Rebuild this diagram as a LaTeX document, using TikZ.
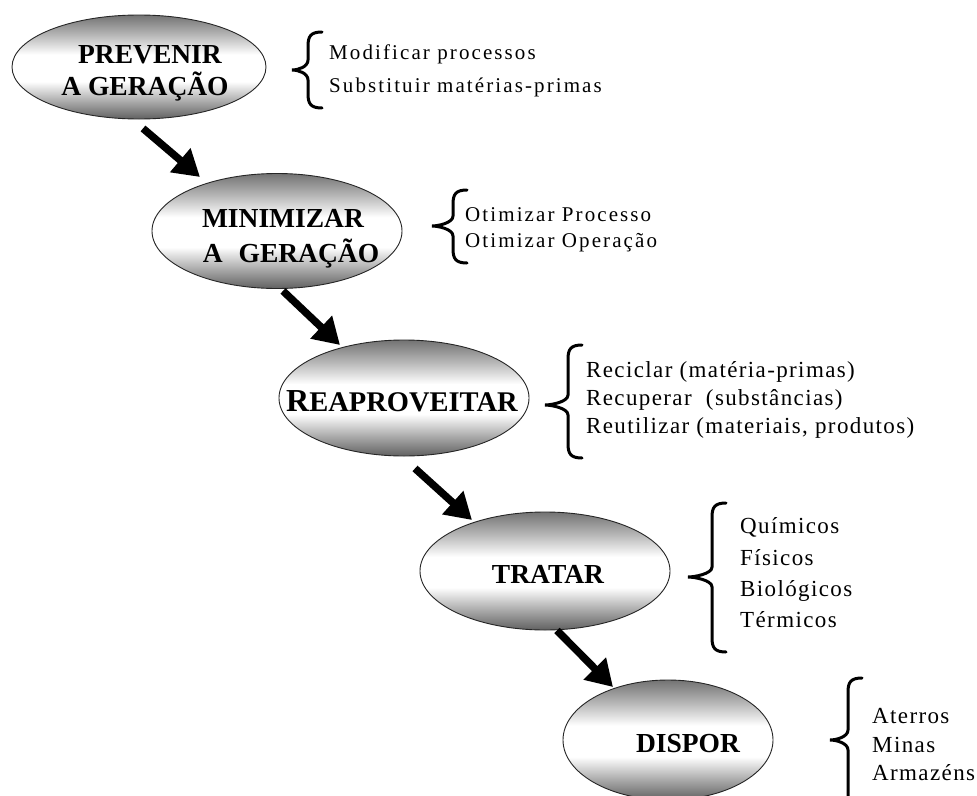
\documentclass[tikz,border=0pt]{standalone}
\usepackage{fontspec}
\setmainfont{Liberation Serif}
\newfontfamily\sidesmall[LetterSpace=10]{Liberation Serif}
\newfontfamily\sidebig[LetterSpace=6]{Liberation Serif}
\usetikzlibrary{arrows.meta,shapes.geometric,calc}
\pgfdeclareverticalshading{ellshade}{100bp}{color(0bp)=(black!62); color(25bp)=(black!62); color(33bp)=(black!35); color(43bp)=(white); color(56bp)=(white); color(66bp)=(black!30); color(75bp)=(black!55); color(100bp)=(black!55)}
\newcommand{\curlybrace}[5]{%
  \draw[curly] ({#1+14},#2) .. controls ({#1+3},#2) and (#1,{#2+4}) .. (#1,{#2+14})
    -- (#1,{#5-10}) .. controls (#1,{#5-3}) and ({#4+6},#5) .. (#4,#5)
    .. controls ({#4+6},#5) and (#1,{#5+3}) .. (#1,{#5+10})
    -- (#1,{#3-14}) .. controls (#1,{#3-4}) and ({#1+3},#3) .. ({#1+14},#3);}
\begin{document}
\begin{tikzpicture}[x=1pt,y=-1pt,
  blob/.style={ellipse, draw=black!85, line width=0.9pt, shading=ellshade, inner sep=0pt},
  title/.style={anchor=base, font=\fontsize{27.5}{27.5}\selectfont\bfseries, inner sep=0pt},
  sa/.style={anchor=base west, font=\fontsize{21}{21}\sidesmall, inner sep=0pt},
  sb/.style={anchor=base west, font=\fontsize{23}{23}\sidebig, inner sep=0pt},
  bigarrow/.style={line width=7.5pt, -{Triangle[length=26pt,width=30pt]}},
  curly/.style={line width=3pt, line cap=round}
]
\fill[white] (0,0) rectangle (977,795);
\useasboundingbox (0,0) rectangle (977,795);

% ellipses
\node[blob, minimum width=254pt, minimum height=104pt] (e1) at (139,67) {};
\node[blob, minimum width=250pt, minimum height=115pt] (e2) at (277,231) {};
\node[blob, minimum width=250pt, minimum height=116pt] (e3) at (404,398) {};
\node[blob, minimum width=250pt, minimum height=118pt] (e4) at (545,571) {};
\node[blob, minimum width=210pt, minimum height=120pt] (e5) at (668,740) {};

% titles
\node[title] (t1a) at (150,63) {PREVENIR};
\node[title] (t1b) at (145,95) {A GERAÇÃO};
\node[title] (t2a) at (283,227) {MINIMIZAR};
\node[title] (t2b) at (291,262) {A\hspace{16pt}GERAÇÃO};
\node[title, font=\fontsize{28.5}{28.5}\selectfont\bfseries] (t3) at (402,411) {{\fontsize{32}{32}\selectfont R}EAPROVEITAR};
\node[title] (t4) at (548,583) {TRATAR};
\node[title] (t5) at (688,752) {DISPOR};

% arrows
\draw[bigarrow] ($(e1.south)+(4,9)$) -- ($(e2.center)+(-77,-54)$);
\draw[bigarrow] ($(e2.south)+(6,2)$) -- ($(e3.center)+(-64,-53)$);
\draw[bigarrow] ($(e3.south)+(11,12)$) -- ($(e4.center)+(-73,-51)$);
\draw[bigarrow] ($(e4.south)+(12,0)$) -- ($(e5.center)+(-55,-53)$);

% braces
\curlybrace{308}{32}{108}{292}{70}
\curlybrace{453}{190}{263}{432}{226}
\curlybrace{568}{345}{458}{545}{405}
\curlybrace{712}{503}{652}{688}{577}
\curlybrace{848}{678}{808}{830}{740}

% side texts
\node[sa] (m1) at (329,59) {Modificar processos};
\node[sa] (m2) at (329,92) {Substituir matérias-primas};
\node[sa] (o1) at (465,221) {Otimizar Processo};
\node[sa] (o2) at (465,247) {Otimizar Operação};
\node[sb] (r1) at (586,377) {Reciclar (matéria-primas)};
\node[sb] (r2) at (586,405) {Recuperar\ \ (substâncias)};
\node[sb] (r3) at (586,433) {Reutilizar (materiais, produtos)};
\node[sb] (q1) at (740,533) {Químicos};
\node[sb] (q2) at (740,565) {Físicos};
\node[sb] (q3) at (740,596) {Biológicos};
\node[sb] (q4) at (740,627) {Térmicos};
\node[sb] (d1) at (872,723) {Aterros};
\node[sb] (d2) at (872,752) {Minas};
\node[sb] (d3) at (872,780) {Armazéns};
\end{tikzpicture}
\end{document}
